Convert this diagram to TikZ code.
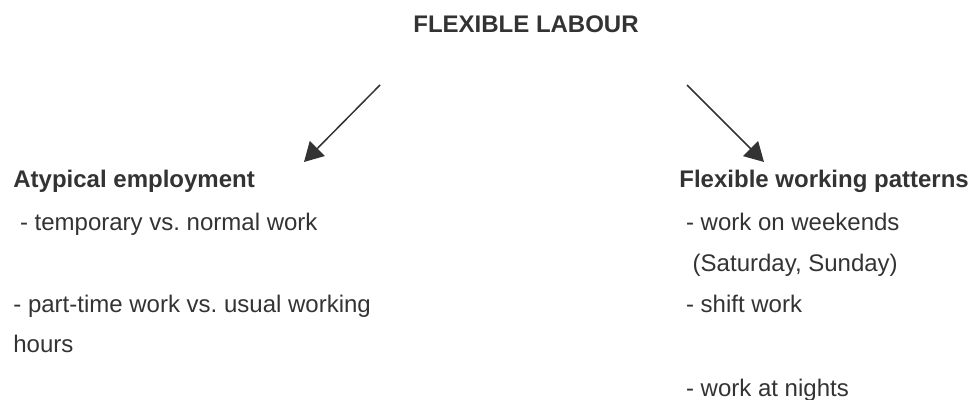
\documentclass[tikz,border=0pt]{standalone}
\usepackage{fontspec}
\setmainfont{Liberation Sans}
\usetikzlibrary{arrows.meta, positioning}
\definecolor{inkgray}{RGB}{51, 51, 51}
\frenchspacing

\begin{document}
\begin{tikzpicture}[
    x=0.5pt, y=-0.5pt,
    every node/.style={inner sep=0pt, text=inkgray},
    heading/.style={anchor=base, font=\fontsize{12}{14}\selectfont\bfseries},
    branch/.style={anchor=base west, font=\fontsize{12}{14}\selectfont\bfseries},
    item/.style={anchor=base west, font=\fontsize{12}{14}\selectfont},
    split/.style={-{Triangle[length=9.5pt, width=10.5pt]}, line width=0.75pt, draw=inkgray}
]
  \useasboundingbox (0, 0) rectangle (970, 400);

  % Top heading
  \node[heading] (flex) at (526, 33) {FLEXIBLE LABOUR};

  % Left branch
  \node[branch] (atyp) at (13, 188) {Atypical employment};
  \node[item] (temp) at (13, 231) {\ - temporary vs. normal work};
  \node[item] (part) at (13, 313) {- part-time work vs. usual working};
  \node[item] (hours) at (13, 353) {hours};

  % Right branch
  \node[branch] (patt) at (679, 188) {Flexible working patterns};
  \node[item] (wknd) at (679, 231) {\ - work on weekends};
  \node[item] (days) at (679, 272) {\ \ (Saturday, Sunday)};
  \node[item] (shift) at (679, 313) {\ - shift work};
  \node[item] (night) at (679, 397) {\ - work at nights};

  % Arrow ends
  \coordinate (lfrom) at (380, 85);
  \coordinate (lto) at (304, 162);
  \coordinate (rfrom) at (687, 85);
  \coordinate (rto) at (764, 162);

  \draw[split] (lfrom) -- (lto);
  \draw[split] (rfrom) -- (rto);
\end{tikzpicture}
\end{document}
